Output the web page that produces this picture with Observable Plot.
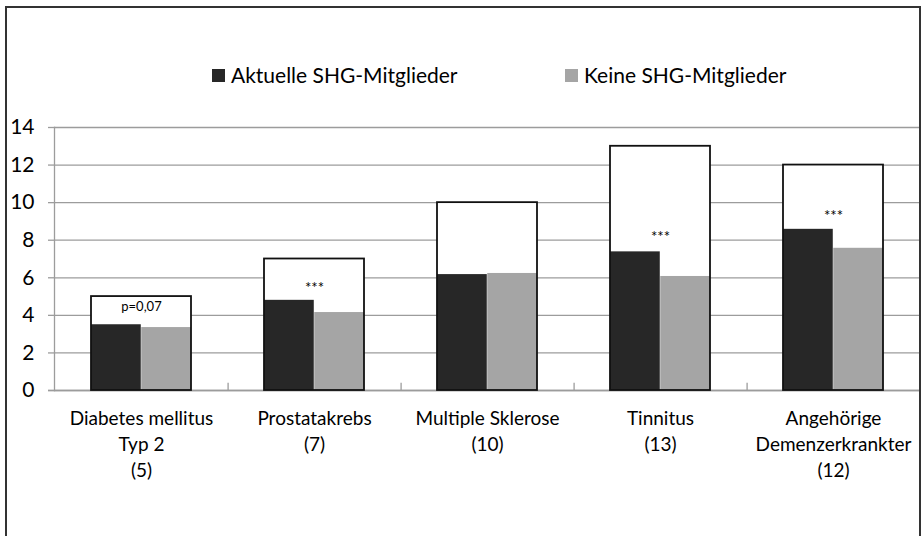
<!DOCTYPE html>
<html><head><meta charset="utf-8">
<script src="https://cdn.jsdelivr.net/npm/d3@7"></script>
<script src="https://cdn.jsdelivr.net/npm/@observablehq/plot@0.6"></script>
<style>
html,body{margin:0;padding:0;background:#fff;overflow:hidden;}
#wrap{position:relative;width:921px;height:536px;overflow:hidden;font-family:Lato,"Open Sans",sans-serif;background:#fff;}
#frame{position:absolute;left:5px;top:6px;width:916px;height:600px;border:2px solid #333;border-bottom:none;box-sizing:border-box;pointer-events:none;}
#legend{position:absolute;top:0;left:0;width:921px;height:0;font-size:21px;color:#000;}
.item{position:absolute;top:62px;display:flex;align-items:center;white-space:nowrap;line-height:26px;}
.sw{width:13px;height:13px;margin-right:6px;}
#chart{position:absolute;left:0;top:0;}
</style></head><body>
<div id="wrap"><div id="chart"></div><div id="legend"></div><div id="frame"></div></div>
<script>
// ---- data ----
const categories = ["Diabetes mellitus\nTyp 2", "Prostatakrebs", "Multiple Sklerose", "Tinnitus", "Angehörige\nDemenzerkrankter"];
const nValues = [5, 7, 10, 13, 12];
const current = [3.5, 4.8, 6.17, 7.38, 8.58];   // Aktuelle SHG-Mitglieder
const noneMembers = [3.35, 4.15, 6.23, 6.07, 7.57]; // Keine SHG-Mitglieder
const notes = ["p=0,07", "***", "", "***", "***"];
const noteY = [4.47, 5.45, null, 8.15, 9.3];
const yTicks = [0, 2, 4, 6, 8, 10, 12, 14];
const seriesNames = ["Aktuelle SHG-Mitglieder", "Keine SHG-Mitglieder"];
const seriesColors = ["#272727", "#a5a5a5"];

const labels = categories.map((c, i) => `${c}\n(${nValues[i]})`);
const data = labels.map((l, i) => ({cat: l, n: nValues[i], cur: current[i], none: noneMembers[i], note: notes[i], noteY: noteY[i]}));

const W = 921, H = 536, mL = 54, mR = 1;
const pInner = 0.42;
const step = (W - mL - mR) / labels.length;
const half = step * (1 - pInner) / 2;
const gridColor = "#9c9c9c";
const font = "Lato, 'Open Sans', sans-serif";

const chart = Plot.plot({
  width: W, height: H,
  marginLeft: mL, marginRight: mR, marginTop: 127, marginBottom: 146,
  style: {fontFamily: font, background: "transparent", color: "#000"},
  x: {domain: labels, paddingInner: pInner, paddingOuter: pInner / 2},
  y: {domain: [0, 14]},
  marks: [
    Plot.gridY(yTicks, {stroke: gridColor, strokeOpacity: 1, strokeWidth: 1.3}),
    Plot.axisY(yTicks, {tickSize: 6, tickPadding: 14, stroke: gridColor, strokeWidth: 1.3, fontSize: 21, tickFormat: d => String(d), fill: "#000"}),
    Plot.frame({anchor: "left", stroke: gridColor, strokeWidth: 1.3}),
    Plot.ruleY([0], {stroke: gridColor, strokeWidth: 1.3, insetLeft: -6}),
    Plot.ruleX(labels.slice(0, -1), {x: d => d, dx: step / 2, y1: 0, y2: 0.38, stroke: gridColor, strokeWidth: 1.3}),
    Plot.barY(data, {x: "cat", y: "n", fill: "white"}),
    Plot.barY(data, {x: "cat", y: "cur", fill: seriesColors[0], insetRight: half}),
    Plot.barY(data, {x: "cat", y: "none", fill: seriesColors[1], insetLeft: half}),
    Plot.barY(data, {x: "cat", y: "n", fill: "none", stroke: "#111", strokeWidth: 1.8}),
    Plot.text(data.filter(d => d.note), {x: "cat", y: "noteY", text: "note", fontSize: d => d.note === "***" ? 15 : 13, fill: "#000"}),
    Plot.axisX({tickSize: 0, tickPadding: 16, fontSize: 19, lineHeight: 1.37, fill: "#000", label: null})
  ]
});
document.getElementById("chart").appendChild(chart);

const legend = document.getElementById("legend");
const legendX = [212, 565];
seriesNames.forEach((name, i) => {
  const it = document.createElement("div");
  it.className = "item";
  it.style.left = legendX[i] + "px";
  it.innerHTML = `<span class="sw" style="background:${seriesColors[i]}"></span><span>${name}</span>`;
  legend.appendChild(it);
});
</script>
</body></html>
